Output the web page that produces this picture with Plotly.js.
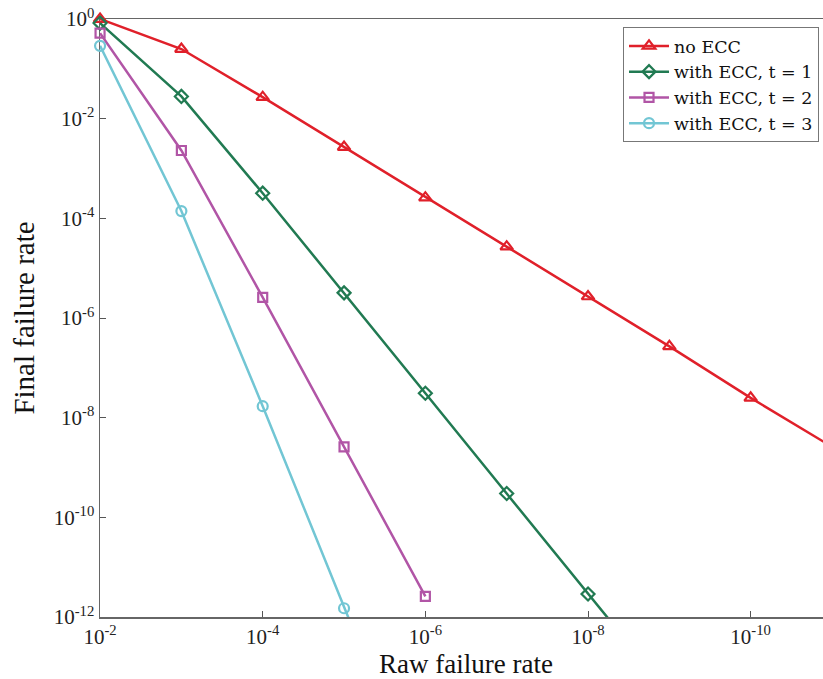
<!DOCTYPE html>
<html>
<head>
<meta charset="utf-8">
<script src="https://cdn.plot.ly/plotly-3.0.1.min.js"></script>
<style>
html,body{margin:0;padding:0;overflow:hidden;background:#fff;width:823px;height:679px;}
#chart{width:840px;height:679px;}
</style>
</head>
<body>
<div id="chart"></div>
<script>
// Raw failure rate (x) values
const rawRate = [1e-2, 1e-3, 1e-4, 1e-5, 1e-6, 1e-7, 1e-8, 1e-9, 1e-10, 1e-11];

// Final failure rate series
const noECC   = [1, 0.25, 0.027, 2.7e-3, 2.6e-4, 2.7e-5, 2.7e-6, 2.7e-7, 2.5e-8, 2.6e-9];
const ecc_t1  = [0.83, 0.028, 3.2e-4, 3.2e-6, 3.1e-8, 3.0e-10, 2.9e-12, 2.9e-14];
const ecc_t2  = [0.52, 2.3e-3, 2.6e-6, 2.6e-9, 2.6e-12];
const ecc_t3  = [0.29, 1.4e-4, 1.7e-8, 1.5e-12, 1.5e-16];

const seriesNames = ['no ECC', 'with ECC, t = 1', 'with ECC, t = 2', 'with ECC, t = 3'];
const colors = ['#e0202a', '#217a52', '#b155a6', '#72c6d4'];
const symbols = ['triangle-up-open', 'diamond-open', 'square-open', 'circle-open'];

const xTickVals = [1e-2, 1e-4, 1e-6, 1e-8, 1e-10];
const xTickText = ['10<sup>-2</sup>', '10<sup>-4</sup>', '10<sup>-6</sup>', '10<sup>-8</sup>', '10<sup>-10</sup>'];
const yTickVals = [1, 1e-2, 1e-4, 1e-6, 1e-8, 1e-10, 1e-12];
const yTickText = ['10<sup>0</sup>', '10<sup>-2</sup>', '10<sup>-4</sup>', '10<sup>-6</sup>', '10<sup>-8</sup>', '10<sup>-10</sup>', '10<sup>-12</sup>'];

const ys = [noECC, ecc_t1, ecc_t2, ecc_t3];
const markerSizes = [11, 10, 9, 10];

const traces = ys.map((y, i) => ({
  x: rawRate.slice(0, y.length),
  y: y,
  name: seriesNames[i],
  type: 'scatter',
  mode: 'lines+markers',
  cliponaxis: false,
  line: {color: colors[i], width: 2.5},
  marker: {symbol: symbols[i], size: markerSizes[i], color: colors[i], line: {color: colors[i], width: 2.2}}
}));

const fontFam = '"Liberation Serif", "DejaVu Serif", serif';
const legFam = '"DejaVu Serif", "Liberation Serif", serif';

const layout = {
  width: 840,
  height: 679,
  margin: {l: 100, r: 8, t: 19, b: 62},
  paper_bgcolor: '#fff',
  plot_bgcolor: '#fff',
  font: {family: fontFam, size: 20, color: '#222'},
  showlegend: true,
  legend: {
    x: 0.7145, y: 0.9866, xanchor: 'left', yanchor: 'top',
    bgcolor: '#fff', bordercolor: '#777', borderwidth: 1,
    font: {family: legFam, size: 17.5, color: '#111'},
    itemwidth: 40, tracegroupgap: 0
  },
  xaxis: {
    type: 'log',
    range: [-1.9993, -11],
    tickvals: xTickVals,
    ticktext: xTickText,
    ticks: 'inside',
    ticklen: 6,
    tickcolor: '#555',
    showgrid: false,
    zeroline: false,
    showline: true,
    linecolor: '#666',
    linewidth: 1.5,
    mirror: true,
    layer: 'below traces',
    tickfont: {family: fontFam, size: 21, color: '#222'},
    title: {text: 'Raw failure rate', font: {family: fontFam, size: 27, color: '#111'}, standoff: 4}
  },
  yaxis: {
    type: 'log',
    range: [-12, 0.0007],
    tickvals: yTickVals,
    ticktext: yTickText,
    ticks: 'inside',
    ticklen: 6,
    tickcolor: '#555',
    showgrid: false,
    zeroline: false,
    showline: true,
    linecolor: '#666',
    linewidth: 1.5,
    mirror: true,
    layer: 'below traces',
    tickfont: {family: fontFam, size: 21, color: '#222'},
    title: {text: 'Final failure rate', font: {family: fontFam, size: 29, color: '#111'}, standoff: 10}
  }
};

Plotly.newPlot('chart', traces, layout, {displayModeBar: false, staticPlot: true});
</script>
</body>
</html>
